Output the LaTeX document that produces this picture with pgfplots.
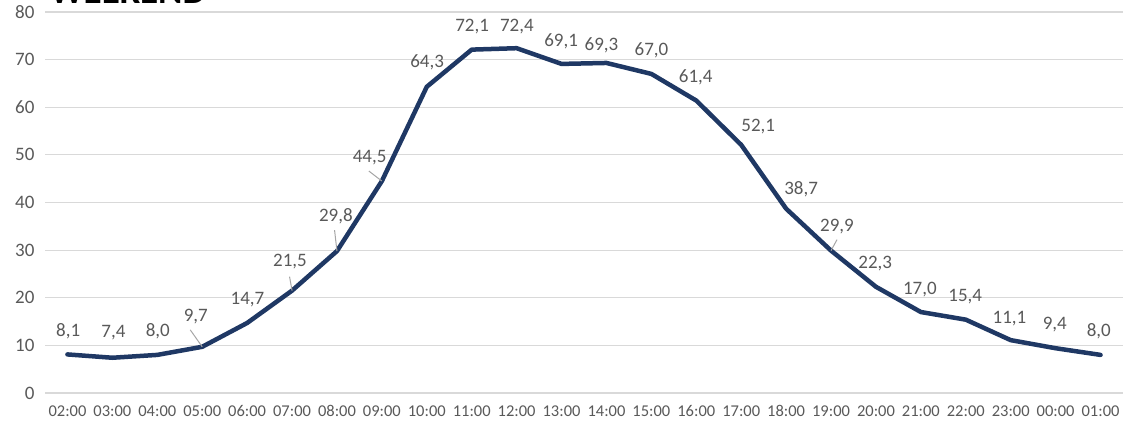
\documentclass[border=0pt]{standalone}
\usepackage{pgfplots}
\pgfplotsset{compat=1.18}
\usepackage{pgfplotstable}
\usepackage{fontspec}
\setmainfont{Carlito}
\definecolor{navy}{RGB}{31,56,100}
\definecolor{lblgray}{RGB}{89,89,89}
\definecolor{gridgray}{RGB}{217,217,217}
\pgfplotstableread{
x y dx dy
0 8.1 0.7 23
1 7.4 1 25
2 8.0 0.5 23.5
3 9.7 -6.4 30
4 14.7 0.4 23
5 21.5 -2 28.6
6 29.8 -1.1 34.6
7 44.5 -12.3 23
8 64.3 0.3 24
9 72.1 0.4 23
10 72.4 0.3 21.6
11 69.1 -0.4 22.3
12 69.3 -5 18
13 67.0 0.1 23.4
14 61.4 -0.6 23.7
15 52.1 17 18
16 38.7 15 19
17 29.9 6 24
18 22.3 -0.7 23
19 17.0 -1 22
20 15.4 -0.5 23
21 11.1 -1.2 22
22 9.4 -0.8 23.5
23 8.0 -1.7 23.5
}\datatable
\begin{document}
\begin{tikzpicture}[x=1pt,y=1pt]
\begin{axis}[
  name=ax,
  at={(0,0)}, anchor=south west,
  scale only axis,
  width=1078pt, height=381pt,
  xmin=-0.5, xmax=23.5,
  ymin=0, ymax=80,
  ytick={0,10,...,80},
  xtick={0,...,23},
  xticklabels={02:00,03:00,04:00,05:00,06:00,07:00,08:00,09:00,10:00,11:00,12:00,13:00,14:00,15:00,16:00,17:00,18:00,19:00,20:00,21:00,22:00,23:00,00:00,01:00},
  axis line style={draw=none},
  major tick length=0pt,
  ymajorgrids,
  grid style={gridgray, line width=1.2pt},
  /pgf/number format/assume math mode=true,
  yticklabel style={font=\fontsize{19}{22}\selectfont, text=lblgray, xshift=-7pt},
  xticklabel style={font=\fontsize{16.5}{19}\selectfont, text=lblgray, yshift=-9pt},
  clip=false,
]
\addplot[navy, line width=4.5pt, line join=round, line cap=round,
  nodes near coords={\pgfmathprintnumber[assume math mode=true,use comma,fixed,fixed zerofill,precision=1]{\pgfplotspointmeta}},
  point meta=y,
  visualization depends on={\thisrow{dx}\as\ldx},
  visualization depends on={\thisrow{dy}\as\ldy},
  every node near coord/.append style={anchor=center, xshift=\ldx pt, yshift=\ldy pt, text=lblgray, font=\fontsize{19}{22}\selectfont, inner sep=0pt},
] table[x=x,y=y] {\datatable};
\draw[gray!70, line width=1pt] ([xshift=-12pt,yshift=17pt]axis cs:3,9.7) -- (axis cs:3,9.7);
\draw[gray!70, line width=1pt] ([xshift=-2.5pt,yshift=14pt]axis cs:5,21.5) -- (axis cs:5,21.5);
\draw[gray!70, line width=1pt] ([xshift=-2.4pt,yshift=21pt]axis cs:6,29.8) -- (axis cs:6,29.8);
\draw[gray!70, line width=1pt] ([xshift=-13pt,yshift=10pt]axis cs:7,44.5) -- (axis cs:7,44.5);
\draw[gray!70, line width=1pt] ([xshift=6pt,yshift=11pt]axis cs:17,29.9) -- (axis cs:17,29.9);
\end{axis}
\begin{scope}
\clip (-45,-34) rectangle (1078,393);
\node[anchor=base west, inner sep=0pt, font=\fontsize{37}{42}\selectfont\bfseries] at (5,389) {WEEKEND};
\end{scope}
\pgfresetboundingbox
\useasboundingbox (-45,-34) rectangle (1078,393);
\end{tikzpicture}
\end{document}
